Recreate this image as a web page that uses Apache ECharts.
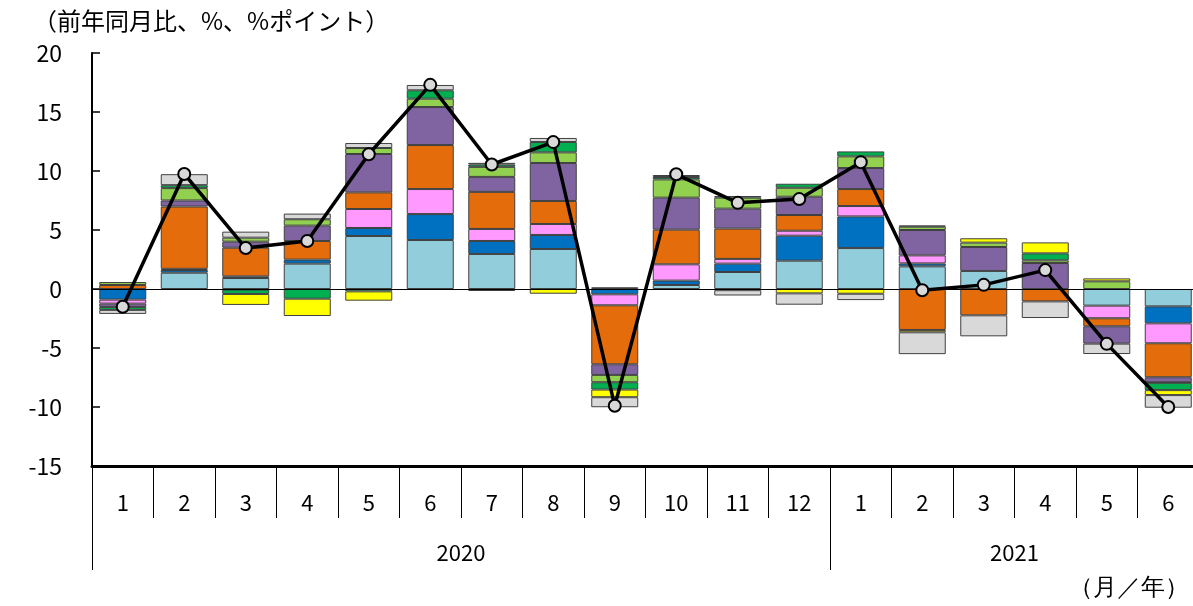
<!DOCTYPE html>
<html>
<head>
<meta charset="utf-8">
<script src="https://cdn.jsdelivr.net/npm/echarts@6/dist/echarts.min.js"></script>
<style>
html,body{margin:0;padding:0;background:#fff;overflow:hidden;width:1193px;height:606px;}
#chart{width:1199px;height:606px;}
</style>
</head>
<body>
<div id="chart"></div>
<script>
// Categories (month / year)
const months = ['1','2','3','4','5','6','7','8','9','10','11','12','1','2','3','4','5','6'];
const years = ['2020','2021'];
const yearStartIndex = [0, 12];
const yearEndIndex = [12, 18];

// Contributions (% points), bottom-to-top stacking order
const lightBlue  = [0, 1.38, 0.93, 2.15, 4.49, 4.15, 2.97, 3.39, 0.15, 0.34, 1.44, 2.40, 3.47, 1.92, 1.53, 0, -1.41, -1.47];
const blue       = [-0.90, 0.23, 0.14, 0.34, 0.68, 2.20, 1.10, 1.19, -0.45, 0.37, 0.71, 2.12, 2.68, 0.25, 0, 0, 0, -1.44];
const pink       = [-0.34, 0.10, -0.05, 0, 1.61, 2.12, 1.02, 0.93, -0.93, 1.38, 0.40, 0.42, 0.88, 0.68, 0, 0, -1.07, -1.69];
const orange     = [0.34, 5.28, 2.43, 1.58, 1.41, 3.73, 3.14, 1.95, -5.00, 2.94, 2.57, 1.33, 1.44, -3.47, -2.23, -1.05, -0.68, -2.88];
const purple     = [-0.28, 0.51, 0.51, 1.30, 3.25, 3.22, 1.27, 3.22, -0.90, 2.71, 1.69, 1.55, 1.78, 2.15, 2.03, 2.20, -1.47, -0.42];
const lightGreen = [0.25, 1.05, 0.34, 0.54, 0.51, 0.71, 0.85, 0.90, -0.62, 1.55, 0.93, 0.76, 0.99, 0.28, 0.37, 0.23, 0.65, -0.05];
const green      = [-0.25, 0.25, -0.37, -0.82, -0.20, 0.71, 0.20, 0.88, -0.62, 0.20, 0.14, 0.34, 0.42, 0.11, 0, 0.59, 0, -0.62];
const yellow     = [0, 0, -0.93, -1.47, -0.79, 0, -0.17, -0.40, -0.65, 0, -0.10, -0.37, -0.40, -0.20, 0.37, 0.93, 0.25, -0.42];
const gray       = [-0.34, 0.93, 0.51, 0.48, 0.42, 0.45, 0.14, 0.34, -0.85, 0.17, -0.45, -0.96, -0.54, -1.85, -1.78, -1.41, -0.88, -1.07];

// Total (line)
const total = [-1.5, 9.75, 3.47, 4.07, 11.42, 17.3, 10.55, 12.45, -9.9, 9.72, 7.3, 7.62, 10.75, -0.1, 0.35, 1.6, -4.65, -10.0];

// Y axis ticks
const yMin = -15, yMax = 20, yStep = 5;

const barDefs = [
  ['系列1', lightBlue, '#92CDDC'],
  ['系列2', blue, '#0070C0'],
  ['系列3', pink, '#FF99FF'],
  ['系列4', orange, '#E46C0A'],
  ['系列5', purple, '#8064A2'],
  ['系列6', lightGreen, '#92D050'],
  ['系列7', green, '#00B050'],
  ['系列8', yellow, '#FFFF00'],
  ['系列9', gray, '#D9D9D9']
];

const FONT = '"Noto Sans CJK JP", "Noto Sans", sans-serif';

const series = barDefs.map(([name, data, color], i) => ({
  name: name,
  type: 'bar',
  stack: 'total',
  xAxisIndex: 0,
  barWidth: 47,
  data: data.map(v => (v === 0 ? '-' : v)),
  itemStyle: { color: color, borderColor: '#404040', borderWidth: 1 },
  markLine: i === 0 ? {
    silent: true, symbol: 'none', label: { show: false },
    lineStyle: { color: '#000', width: 1, type: 'solid' },
    data: [{ yAxis: 0 }]
  } : undefined
}));

series.push({
  name: '合計',
  type: 'line',
  xAxisIndex: 0,
  data: total,
  z: 10,
  symbol: 'circle',
  symbolSize: 12,
  lineStyle: { color: '#000', width: 3.5 },
  itemStyle: { color: '#D9D9D9', borderColor: '#000', borderWidth: 2 }
});

const yearCenters = years.map((y, i) => (yearStartIndex[i] + yearEndIndex[i]) / 2);

const option = {
  animation: false,
  backgroundColor: '#fff',
  textStyle: { fontFamily: FONT },
  title: {
    text: '（前年同月比、%、%ポイント）',
    left: 28, top: 4,
    textStyle: { fontSize: 24, fontWeight: 'normal', color: '#000', fontFamily: FONT }
  },
  graphic: [{
    type: 'text', right: 10, top: 576,
    style: { text: '（月／年）', fontSize: 24, fill: '#000', font: '24px ' + FONT }
  }],
  grid: { left: 92, top: 53, right: 0, bottom: 140, containLabel: false },
  xAxis: [{
    type: 'category',
    data: months,
    position: 'bottom',
    boundaryGap: true,
    axisLine: { show: true, onZero: false, lineStyle: { color: '#000', width: 3 } },
    axisTick: { show: true, interval: 0, length: 52, lineStyle: { color: '#000', width: 1 } },
    axisLabel: { interval: 0, margin: 26, fontSize: 22, color: '#000', fontFamily: FONT },
    splitLine: { show: false }
  }, {
    type: 'value',
    min: 0, max: months.length,
    position: 'bottom',
    axisLine: { show: false, onZero: false },
    axisTick: { show: true, customValues: yearStartIndex, length: 104, lineStyle: { color: '#000', width: 1 } },
    axisLabel: {
      show: true, customValues: yearCenters, margin: 76, fontSize: 22, color: '#000', fontFamily: FONT,
      formatter: v => { const i = yearCenters.indexOf(v); return i >= 0 ? years[i] : ''; }
    },
    splitLine: { show: false }
  }],
  yAxis: {
    type: 'value',
    min: yMin, max: yMax, interval: yStep,
    axisLine: { show: true, onZero: false, lineStyle: { color: '#000', width: 2 } },
    axisTick: { show: true, inside: true, length: 8, lineStyle: { color: '#000', width: 1.5 } },
    axisLabel: { margin: 30, fontSize: 23, color: '#000', fontFamily: FONT },
    splitLine: { show: false }
  },
  series: series
};

const chart = echarts.init(document.getElementById('chart'), null, { renderer: 'canvas' });
chart.setOption(option);
</script>
</body>
</html>
